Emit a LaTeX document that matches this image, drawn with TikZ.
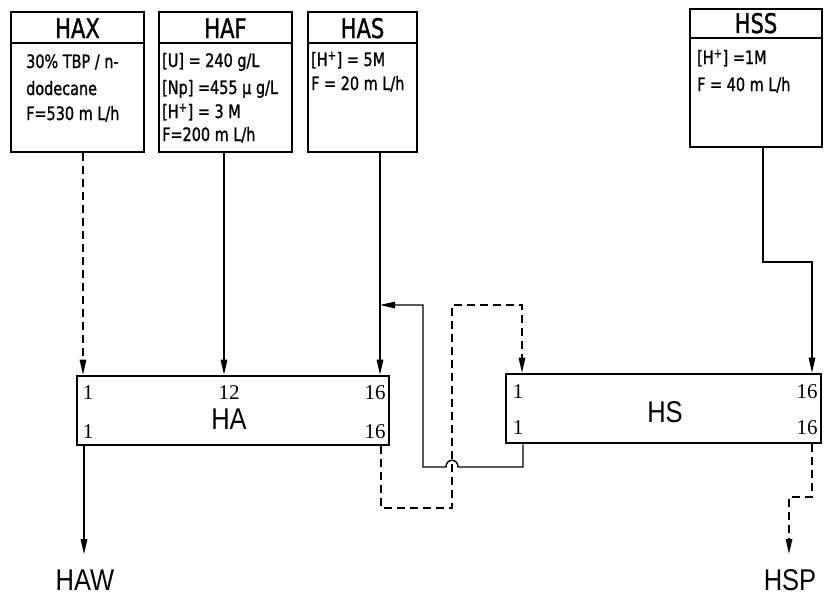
\documentclass[tikz,border=0pt]{standalone}
\usepackage{fontspec}
\usetikzlibrary{arrows.meta}
\newfontfamily\plotfont[FakeStretch=0.78,FakeBold=1.2]{DejaVu Sans}
\newfontfamily\labfont[FakeStretch=0.85]{Liberation Sans}
\newfontfamily\numfont{Liberation Serif}
\begin{document}
\begin{tikzpicture}[x=1pt,y=-1pt,
  box/.style={draw, line width=2.6pt, inner sep=0pt},
  hline/.style={line width=1.4pt},
  flow/.style={line width=1.4pt},
  dflow/.style={flow, dash pattern=on 8pt off 5pt},
  tip/.style={-{Triangle[length=15pt,width=6.5pt]}},
  head/.style={font=\plotfont\fontsize{27}{27}\selectfont, anchor=base, inner sep=0pt},
  body/.style={font=\plotfont\fontsize{18.5}{18.5}\selectfont, anchor=base west, inner sep=0pt},
  num/.style={font=\numfont\fontsize{21}{21}\selectfont, inner sep=0pt},
  big/.style={font=\labfont\fontsize{30}{30}\selectfont, inner sep=0pt}]
\useasboundingbox (0,0) rectangle (825,600);

% feed boxes
\node[box, minimum width=133pt, minimum height=140pt] (hax) at (77.5,82) {};
\node[box, minimum width=133pt, minimum height=140pt] (haf) at (225.5,82) {};
\node[box, minimum width=109pt, minimum height=140pt] (has) at (362.5,82) {};
\node[box, minimum width=132pt, minimum height=138pt] (hss) at (756,78) {};
\draw[hline] (hax.west |- 0,43) -- (hax.east |- 0,43);
\draw[hline] (haf.west |- 0,43) -- (haf.east |- 0,43);
\draw[hline] (has.west |- 0,43) -- (has.east |- 0,43);
\draw[hline] (hss.west |- 0,38) -- (hss.east |- 0,38);

\node[head] (haxh) at (77.5,38) {HAX};
\node[head] (hafh) at (225.5,38) {HAF};
\node[head] (hash) at (362.5,38) {HAS};
\node[head] (hssh) at (756,33) {HSS};

\node[body] (hax1) at (26,68) {30\% TBP / n-};
\node[body] (hax2) at (26,95) {dodecane};
\node[body] (hax3) at (26,120) {F=530 m L/h};

\node[body] (haf1) at (162,67) {[U] = 240 g/L};
\node[body] (haf2) at (162,94) {[Np] =455 μ g/L};
\node[body] (haf3) at (162,118) {[H\textsuperscript{+}] = 3 M};
\node[body] (haf4) at (162,141) {F=200 m L/h};

\node[body] (has1) at (311,66) {[H\textsuperscript{+}] = 5M};
\node[body] (has2) at (311,90) {F = 20 m L/h};

\node[body] (hss1) at (697,64) {[H\textsuperscript{+}] =1M};
\node[body] (hss2) at (697,91) {F = 40 m L/h};

% contactors
\node[box, minimum width=312pt, minimum height=69pt] (ha) at (233,410.5) {};
\node[box, minimum width=315pt, minimum height=69pt] (hs) at (663.5,408.5) {};
\node[big] (halab) at (229,419) {HA};
\node[big] (hslab) at (665,412) {HS};
\node[num] (ha1t) at (88,393) {1};
\node[num] (ha1b) at (88,432) {1};
\node[num] (ha12) at (229,393) {12};
\node[num] (ha16t) at (375,393) {16};
\node[num] (ha16b) at (375,432) {16};
\node[num] (hs1t) at (518,392) {1};
\node[num] (hs1b) at (518,428) {1};
\node[num] (hs16t) at (807,392) {16};
\node[num] (hs16b) at (807,428) {16};

% products
\node[big, anchor=base] (haw) at (85,590) {HAW};
\node[big, anchor=base] (hsp) at (790,590) {HSP};

\coordinate (join) at (380,305);

% connectors
\draw[dflow,tip] (83,0 |- hax.south) -- (83,0 |- ha.north);
\draw[flow,tip] (224,0 |- haf.south) -- (224,0 |- ha.north);
\draw[flow,tip] (380,0 |- has.south) -- (380,0 |- ha.north);
\draw[flow,tip] (763,0 |- hss.south) -- (763,262) -- (812,262) -- (812,0 |- hs.north);
\draw[flow,tip,shorten >=15pt] (84,0 |- ha.south) -- (84,0 |- haw.north);
\draw[dflow,tip] (381,0 |- ha.south) -- (381,508) -- (452,508) -- (452,305) -- (522,305) -- (522,0 |- hs.north);
\draw[flow,tip] (523,0 |- hs.south) -- (523,467) -- (458,467)
   .. controls (458,458) and (446,458) .. (446,467) -- (423,467) -- (423,305) -- (join);
\draw[dflow,tip,shorten >=15pt] (812,0 |- hs.south) -- (812,497) -- (789,497) -- (789,0 |- hsp.north);
\end{tikzpicture}
\end{document}
